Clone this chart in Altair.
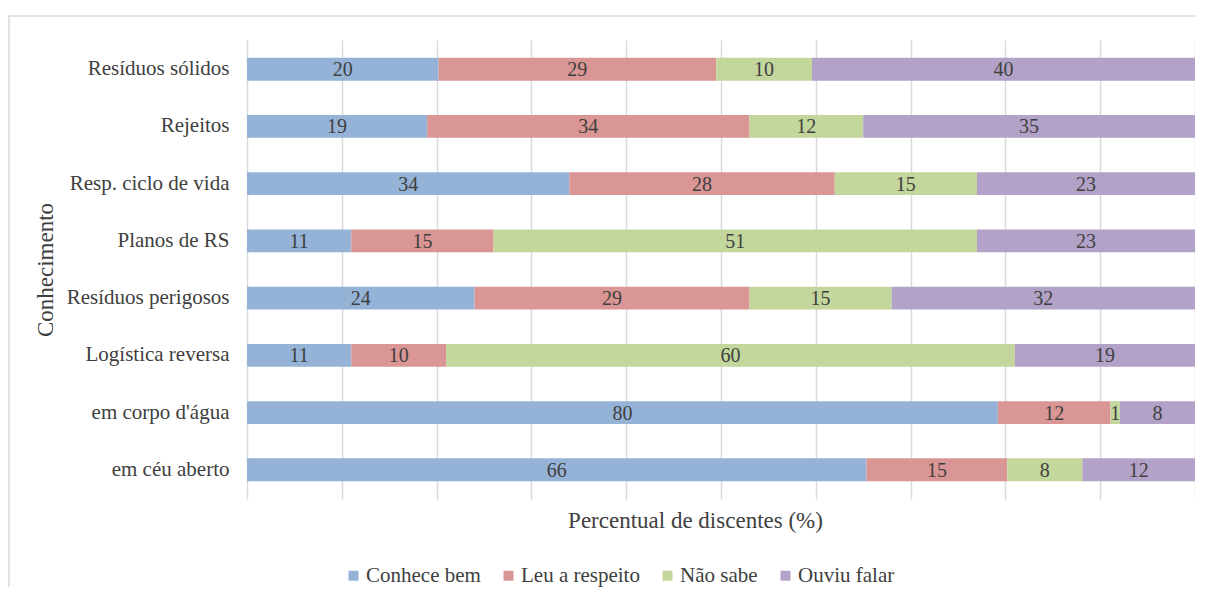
import altair as alt
import pandas as pd

categories = ["Resíduos sólidos", "Rejeitos", "Resp. ciclo de vida", "Planos de RS",
              "Resíduos perigosos", "Logística reversa", "em corpo d'água", "em céu aberto"]
series = ["Conhece bem", "Leu a respeito", "Não sabe", "Ouviu falar"]
conhece_bem = [20, 19, 34, 11, 24, 11, 80, 66]
leu_a_respeito = [29, 34, 28, 15, 29, 10, 12, 15]
nao_sabe = [10, 12, 15, 51, 15, 60, 1, 8]
ouviu_falar = [40, 35, 23, 23, 32, 19, 8, 12]
colors = ["#95B3D7", "#D99694", "#C3D69B", "#B3A2C7"]
grid_values = [0, 0.1, 0.2, 0.3, 0.4, 0.5, 0.6, 0.7, 0.8, 0.9, 1.0]

rows = []
for s_i, (name, vals) in enumerate(zip(series, [conhece_bem, leu_a_respeito, nao_sabe, ouviu_falar])):
    for cat, v in zip(categories, vals):
        rows.append({"cat": cat, "serie": name, "value": v, "ord": s_i})
df = pd.DataFrame(rows)

FONT = "'Liberation Serif', 'Times New Roman', serif"
TXT = "#404040"

base = alt.Chart(df).transform_stack(
    stack="value", groupby=["cat"], as_=["x0", "x1"], offset="normalize",
    sort=[alt.SortField("ord", order="ascending")]
)

yenc = alt.Y(
    "cat:N", sort=categories,
    scale=alt.Scale(paddingInner=0.6, paddingOuter=0.31),
    axis=alt.Axis(title="Conhecimento", domain=False, ticks=False, labelPadding=18,
                  labelFont=FONT, labelFontSize=21, labelColor=TXT,
                  titleFont=FONT, titleFontSize=23, titleFontWeight="normal",
                  titleColor=TXT, titleX=-190),
)

bars = base.mark_bar().encode(
    y=yenc,
    x=alt.X("x0:Q", scale=alt.Scale(domain=[0, 1], nice=False),
            axis=alt.Axis(values=grid_values, labels=False, ticks=False, domain=False,
                          grid=True, gridColor="#D9D9D9", gridWidth=1.5,
                          title="Percentual de discentes (%)", titleFont=FONT,
                          titleFontSize=23, titleFontWeight="normal", titleColor=TXT,
                          titleX=448, titleY=28, titleBaseline="alphabetic",
                          titleAlign="center")),
    x2="x1",
    color=alt.Color("serie:N", sort=series,
                    scale=alt.Scale(domain=series, range=colors),
                    legend=alt.Legend(orient="none", legendX=96, legendY=525,
                                      direction="horizontal", title=None,
                                      symbolType="square", symbolSize=100,
                                      symbolStrokeWidth=0, labelFont=FONT,
                                      labelFontSize=21, labelColor=TXT,
                                      columnPadding=17, labelOffset=2)),
)

labels = base.transform_calculate(mid="(datum.x0 + datum.x1) / 2").mark_text(
    font=FONT, fontSize=20, color=TXT, baseline="middle", dy=1
).encode(
    y=alt.Y("cat:N", sort=categories),
    x=alt.X("mid:Q"),
    text=alt.Text("value:Q"),
)

frame_df = pd.DataFrame({"k": [0]})
frame_left = alt.Chart(frame_df).mark_rule(color="#D9D9D9", strokeWidth=1.5).encode(
    x=alt.value(-238), y=alt.value(-24), y2=alt.value(560)
)
frame_top = alt.Chart(frame_df).mark_rule(color="#D9D9D9", strokeWidth=1.5).encode(
    x=alt.value(-239), x2=alt.value(960), y=alt.value(-24)
)

chart = alt.layer(bars, labels, frame_left, frame_top).properties(
    width=948, height=459,
    autosize=alt.AutoSizeParams(type="none"),
    padding={"left": 239, "top": 32, "right": 0, "bottom": 88},
).configure(font=FONT).configure_view(stroke=None)

chart.save("out.html", embed_options={"renderer": "svg", "actions": False})
